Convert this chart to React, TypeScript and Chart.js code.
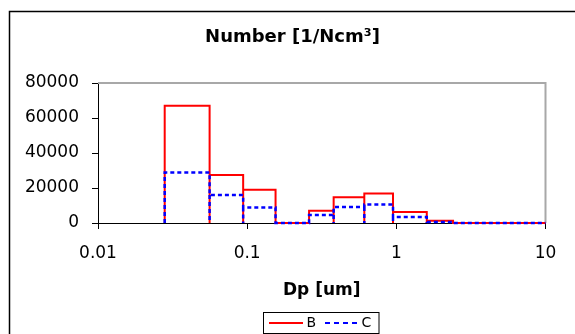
import React, { useEffect, useRef } from "react";
import { Chart, registerables } from "chart.js";

Chart.register(...registerables);

// ---- data ----
const binEdges = [0.028, 0.056, 0.094, 0.155, 0.26, 0.38, 0.61, 0.95, 1.6, 2.4, 4.0, 6.7, 10];
const seriesB = [67000, 27500, 19000, 0, 7000, 14700, 16800, 6300, 1300, 0, 0, 0];
const seriesC = [28800, 16000, 8800, 0, 4600, 9100, 10600, 3400, 600, 0, 0, 0];
const seriesNames = ["B", "C"];
const xTicks = [0.01, 0.1, 1, 10];
const xTickLabels = ["0.01", "0.1", "1", "10"];
const yTicks = [0, 20000, 40000, 60000, 80000];
const yTickLabels = ["0", "20000", "40000", "60000", "80000"];
const chartTitle = "Number [1/Ncm³]";
const xAxisTitle = "Dp [um]";

const W = 575;
const H = 334;
const FONT = "'DejaVu Sans', sans-serif";

// histogram outline: stepped top outline, plus lower parts of inner edges down to 0
// (drawn once each so dashed lines never overlap themselves)
function histPoints(vals: number[]) {
  const n = vals.length;
  const pts: { x: number; y: number | null }[] = [];
  pts.push({ x: binEdges[0], y: 0 });
  for (let i = 0; i < n; i++) {
    pts.push({ x: binEdges[i], y: vals[i] });
    pts.push({ x: binEdges[i + 1], y: vals[i] });
  }
  pts.push({ x: binEdges[n], y: 0 });
  for (let j = 1; j < n; j++) {
    const low = Math.min(vals[j - 1], vals[j]);
    if (low > 0) {
      pts.push({ x: binEdges[j], y: null });
      pts.push({ x: binEdges[j], y: low });
      pts.push({ x: binEdges[j], y: 0 });
    }
  }
  return pts;
}

const decor = {
  id: "decor",
  beforeDatasetsDraw(chart: any) {
    const { ctx, chartArea: a } = chart;
    ctx.save();
    ctx.strokeStyle = "#a8a8a8";
    ctx.lineWidth = 2;
    ctx.beginPath();
    ctx.moveTo(a.left, a.top);
    ctx.lineTo(a.right, a.top);
    ctx.lineTo(a.right, a.bottom);
    ctx.stroke();
    ctx.restore();
  },
  afterDraw(chart: any) {
    const { ctx, chartArea: a } = chart;
    ctx.save();
    // outer frame
    ctx.strokeStyle = "#000";
    ctx.lineWidth = 1.5;
    ctx.beginPath();
    ctx.moveTo(9.5, H);
    ctx.lineTo(9.5, 11.5);
    ctx.lineTo(W, 11.5);
    ctx.stroke();

    // chart title
    ctx.fillStyle = "#000";
    ctx.textAlign = "center";
    ctx.textBaseline = "alphabetic";
    ctx.font = `bold 18px ${FONT}`;
    ctx.fillText(chartTitle, 292.5, 41.5);

    // x axis title
    ctx.font = `bold 17px ${FONT}`;
    ctx.fillText(xAxisTitle, (a.left + a.right) / 2, 295);

    // legend
    const lx = 263.5, ly = 312.5, lw = 115.5, lh = 21;
    ctx.lineWidth = 1;
    ctx.strokeStyle = "#000";
    ctx.strokeRect(lx, ly, lw, lh);
    const cy = ly + lh / 2;
    ctx.strokeStyle = "#ff0000";
    ctx.lineWidth = 2;
    ctx.beginPath();
    ctx.moveTo(269, cy);
    ctx.lineTo(303, cy);
    ctx.stroke();
    ctx.strokeStyle = "#0000ff";
    ctx.setLineDash([5, 4]);
    ctx.beginPath();
    ctx.moveTo(325, cy);
    ctx.lineTo(358, cy);
    ctx.stroke();
    ctx.setLineDash([]);
    ctx.font = `14px ${FONT}`;
    ctx.textAlign = "left";
    ctx.textBaseline = "middle";
    ctx.fillStyle = "#000";
    ctx.fillText(seriesNames[0], 306.5, cy + 0.5);
    ctx.fillText(seriesNames[1], 361.5, cy + 0.5);
    ctx.restore();
  },
};

export default function App() {
  const ref = useRef<HTMLCanvasElement>(null);
  useEffect(() => {
    document.body.style.margin = "0";
    const chart = new Chart(ref.current as HTMLCanvasElement, {
      type: "line",
      data: {
        datasets: [
          {
            label: seriesNames[0],
            data: histPoints(seriesB),
            borderColor: "#ff0000",
            borderWidth: 2,
            pointRadius: 0,
            tension: 0,
            spanGaps: false,
            fill: false,
            clip: false,
            order: 1,
          },
          {
            label: seriesNames[1],
            data: histPoints(seriesC),
            borderColor: "#0000ff",
            borderWidth: 2.5,
            borderDash: [4, 3],
            pointRadius: 0,
            tension: 0,
            spanGaps: false,
            fill: false,
            clip: false,
            order: 0,
          },
        ],
      },
      options: {
        animation: false,
        responsive: false,
        events: [],
        layout: { padding: { left: 0, top: 83, right: 29.5, bottom: 0 } },
        plugins: {
          legend: { display: false },
          title: { display: false },
          tooltip: { enabled: false },
        },
        scales: {
          x: {
            type: "logarithmic",
            min: 0.01,
            max: 10,
            afterBuildTicks: (s: any) => {
              s.ticks = xTicks.map((v) => ({ value: v }));
            },
            afterFit: (s: any) => {
              s.height = H - 223;
            },
            ticks: {
              autoSkip: false,
              maxRotation: 0,
              padding: 14,
              color: "#000",
              font: { family: FONT, size: 17 },
              callback: (v: any) => {
                const i = xTicks.indexOf(Number(v));
                return i >= 0 ? xTickLabels[i] : "";
              },
            },
            grid: {
              display: true,
              drawOnChartArea: false,
              drawTicks: true,
              tickLength: 6,
              color: "#000",
            },
            border: { display: true, color: "#000", width: 1 },
          },
          y: {
            type: "linear",
            min: 0,
            max: 80000,
            afterBuildTicks: (s: any) => {
              s.ticks = yTicks.map((v) => ({ value: v }));
            },
            afterFit: (s: any) => {
              s.width = 98;
            },
            ticks: {
              padding: 13,
              color: "#000",
              font: { family: FONT, size: 17 },
              callback: (v: any) => {
                const i = yTicks.indexOf(Number(v));
                return i >= 0 ? yTickLabels[i] : "";
              },
            },
            grid: {
              display: true,
              drawOnChartArea: false,
              drawTicks: true,
              tickLength: 6,
              color: "#000",
            },
            border: { display: true, color: "#000", width: 1 },
          },
        },
      },
      plugins: [decor],
    });
    return () => chart.destroy();
  }, []);
  return (
    <div style={{ position: "absolute", left: 0, top: 0, width: W, height: H, background: "#fff" }}>
      <canvas ref={ref} width={W} height={H} style={{ display: "block" }} />
    </div>
  );
}
